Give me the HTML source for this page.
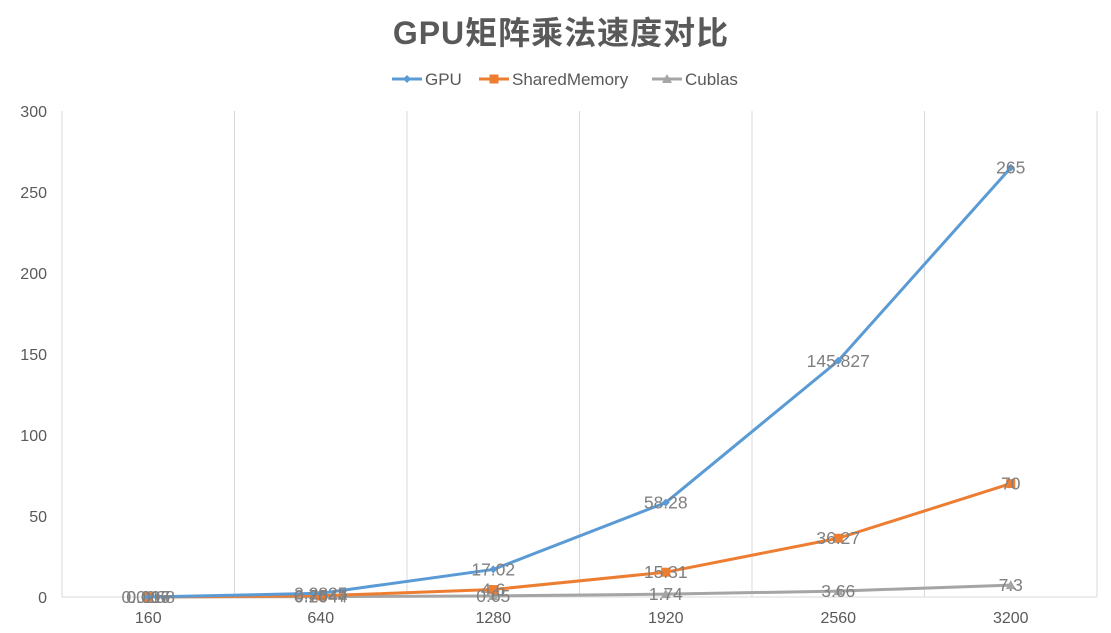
<!DOCTYPE html>
<html><head><meta charset="utf-8"><style>
body{margin:0;background:#fff;}
svg text{font-family:"Liberation Sans","Noto Sans CJK SC",sans-serif;}
</style></head><body>
<svg id="chart" width="1111" height="628" xmlns="http://www.w3.org/2000/svg">
<text x="561" y="44" text-anchor="middle" font-size="32" font-weight="bold" letter-spacing="1" fill="#595959">GPU矩阵乘法速度对比</text>
<g id="grid"></g><g id="axes"></g><g id="series"></g><g id="labels"></g><g id="legend"></g>
</svg>
<script>
const categories=["160","640","1280","1920","2560","3200"];
const gpu=[0.0268,2.2825,17.02,58.28,145.827,265];
const shared=[0.017,0.7547,4.6,15.31,36.27,70];
const cublas=[0.006,0.2044,0.65,1.74,3.66,7.3];
const gpuLabels=["0.0268","2.2825","17.02","58.28","145.827","265"];
const sharedLabels=["0.017","0.7547","4.6","15.31","36.27","70"];
const cublasLabels=["0.006","0.2044","0.65","1.74","3.66","7.3"];
const yTicks=[0,50,100,150,200,250,300];
const NS="http://www.w3.org/2000/svg";
const L=62,R=1097,T=111,B=597,ymax=300;
const bw=(R-L)/categories.length;
const xs=i=>L+bw*(i+0.5);
const ys=v=>B-(v/ymax)*(B-T);
function mk(tag,attrs,parent,txt){const e=document.createElementNS(NS,tag);for(const k in attrs)e.setAttribute(k,attrs[k]);if(txt!==undefined)e.textContent=txt;document.getElementById(parent).appendChild(e);return e;}
for(let i=0;i<=categories.length;i++){
 const g=mk('line',{x1:L+bw*i,x2:L+bw*i,y1:T,y2:B,stroke:'#d9d9d9','stroke-width':1},'grid');
 
 
}
const ax=mk('line',{x1:L,x2:R,y1:B,y2:B,stroke:'#d9d9d9','stroke-width':1},'axes');


yTicks.forEach(t=>{
 const e=mk('text',{x:47,y:ys(t)+6,'text-anchor':'end','font-size':16,fill:'#595959'},'axes',String(t));
 
 
});
categories.forEach((c,i)=>{
 const e=mk('text',{x:xs(i),y:623,'text-anchor':'middle','font-size':16,fill:'#595959'},'axes',c);
 
 
});
function series(data,labels,color,name,marker){
 const pts=data.map((v,i)=>xs(i)+','+ys(v)).join(' ');
 const pl=mk('polyline',{points:pts,fill:'none',stroke:color,'stroke-width':3,'stroke-linejoin':'round'},'series');
 
 
 data.forEach((v,i)=>{
  const x=xs(i),y=ys(v);let m;
  if(marker==='diamond')m=mk('polygon',{points:`${x},${y-4} ${x+4},${y} ${x},${y+4} ${x-4},${y}`,fill:color},'series');
  else if(marker==='square')m=mk('rect',{x:x-4.5,y:y-4.5,width:9,height:9,fill:color},'series');
  else m=mk('polygon',{points:`${x},${y-5} ${x+5},${y+4} ${x-5},${y+4}`,fill:color},'series');
  
  
  const t=mk('text',{x:x,y:y+6,'text-anchor':'middle','font-size':17.5,fill:'#7f7f7f'},'labels',labels[i]);
  
  
 });
}
series(cublas,cublasLabels,'#a5a5a5','cublas','triangle');
series(shared,sharedLabels,'#ed7d31','shared-memory','square');
series(gpu,gpuLabels,'#5b9bd5','gpu','diamond');
const leg=[["GPU",'#5b9bd5','diamond',392],["SharedMemory",'#ed7d31','square',479],["Cublas",'#a5a5a5','triangle',652]];
leg.forEach(([n,c,m,x])=>{
 const y=79;
 const l=mk('line',{x1:x,x2:x+30,y1:y,y2:y,stroke:c,'stroke-width':3},'legend');
 
 
 const cx=x+15;let mm;
 if(m==='diamond')mm=mk('polygon',{points:`${cx},${y-4} ${cx+4},${y} ${cx},${y+4} ${cx-4},${y}`,fill:c},'legend');
 else if(m==='square')mm=mk('rect',{x:cx-4.5,y:y-4.5,width:9,height:9,fill:c},'legend');
 else mm=mk('polygon',{points:`${cx},${y-5} ${cx+5},${y+4} ${cx-5},${y+4}`,fill:c},'legend');
 
 
 const t=mk('text',{x:x+33,y:y+6,'font-size':17,fill:'#595959'},'legend',n);
 
 
});
</script>
</body></html>
